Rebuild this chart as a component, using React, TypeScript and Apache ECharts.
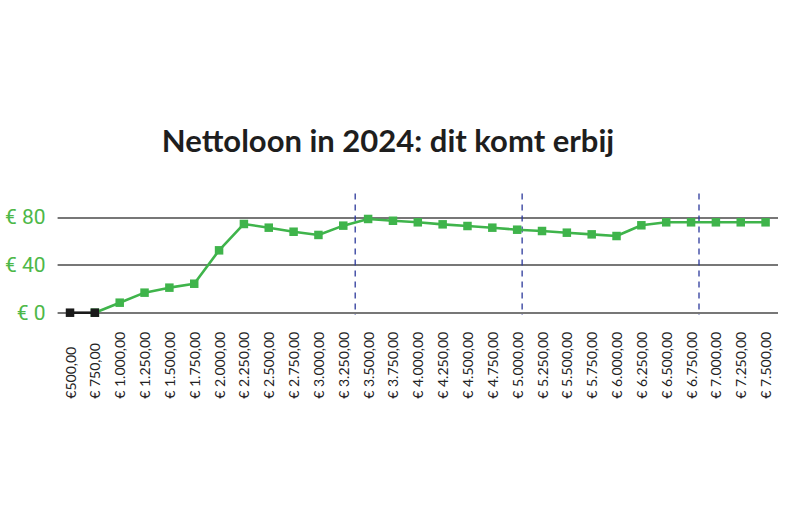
import React, { useEffect, useRef } from "react";
import * as echarts from "echarts";

const salaries = [
  500, 750, 1000, 1250, 1500, 1750, 2000, 2250, 2500, 2750, 3000, 3250, 3500, 3750, 4000,
  4250, 4500, 4750, 5000, 5250, 5500, 5750, 6000, 6250, 6500, 6750, 7000, 7250, 7500,
];
const categoryLabels = [
  "€500,00", "€ 750,00", "€ 1.000,00", "€ 1.250,00", "€ 1.500,00", "€ 1.750,00", "€ 2.000,00",
  "€ 2.250,00", "€ 2.500,00", "€ 2.750,00", "€ 3.000,00", "€ 3.250,00", "€ 3.500,00",
  "€ 3.750,00", "€ 4.000,00", "€ 4.250,00", "€ 4.500,00", "€ 4.750,00", "€ 5.000,00",
  "€ 5.250,00", "€ 5.500,00", "€ 5.750,00", "€ 6.000,00", "€ 6.250,00", "€ 6.500,00",
  "€ 6.750,00", "€ 7.000,00", "€ 7.250,00", "€ 7.500,00",
];
const extraNet = [
  0, 0, 8.4, 16.8, 21.0, 24.3, 52.3, 74.4, 71.3, 67.9, 65.2, 73.0, 78.6, 77.1, 75.8,
  74.1, 72.7, 71.3, 69.6, 68.5, 67.1, 65.7, 64.3, 73.3, 75.8, 75.8, 75.8, 75.8, 75.8,
];
const zeroPoints = [0, 0];
const yTicks = [0, 40, 80];
const dashedAt = [3370, 5050, 6830];
const dashedRange = [-2, 100];

const title = "Nettoloon in 2024: dit komt erbij";

export default function App() {
  const ref = useRef<HTMLDivElement>(null);
  useEffect(() => {
    if (!ref.current) return;
    const chart = echarts.init(ref.current, null, { renderer: "svg" });
    const green = "#3fb44b";
    const blackData = categoryLabels.map((_, i) => (i < zeroPoints.length ? zeroPoints[i] : "-"));
    const greenData = extraNet.map((v, i) => (i === 0 ? "-" : v));
    const step = salaries[1] - salaries[0];
    chart.setOption({
      animation: false,
      graphic: [
        {
          type: "text",
          x: 388,
          y: 140,
          style: {
            text: title,
            font: "bold 31px Lato",
            fill: "#1e1e1e",
            textAlign: "center",
            textVerticalAlign: "middle",
          },
        },
      ],
      grid: { left: 57.6, right: 22, top: 217.3, bottom: 213.3 },
      xAxis: [
        {
          type: "category",
          data: categoryLabels,
          boundaryGap: true,
          axisLine: { show: false },
          axisTick: { show: false },
          axisLabel: {
            rotate: 90,
            interval: 0,
            align: "left",
            verticalAlign: "middle",
            margin: 86,
            fontFamily: "Lato",
            fontSize: 14,
            color: "#222",
          },
        },
        {
          type: "value",
          min: salaries[0] - step / 2,
          max: salaries[salaries.length - 1] + step / 2,
          show: false,
        },
      ],
      yAxis: {
        type: "value",
        min: yTicks[0],
        max: yTicks[yTicks.length - 1],
        interval: yTicks[1] - yTicks[0],
        axisLine: { show: false },
        axisTick: { show: false },
        axisLabel: {
          formatter: (v: number) => "€ " + v,
          color: "#4db848",
          fontFamily: "Roboto",
          fontSize: 21,
          margin: 12,
        },
        splitLine: { lineStyle: { color: "#4a4a4a", width: 1.6 } },
      },
      series: [
        {
          type: "custom",
          xAxisIndex: 1,
          clip: false,
          z: 1,
          data: dashedAt.map((x) => [x]),
          renderItem: (params: any, api: any) => {
            const x = api.value(0);
            const p1 = api.coord([x, dashedRange[1]]);
            const p2 = api.coord([x, dashedRange[0]]);
            return {
              type: "line",
              shape: { x1: p1[0], y1: p1[1], x2: p2[0], y2: p2[1] },
              style: { stroke: "#2d3a9c", lineWidth: 1.3, lineDash: [6, 5] },
            };
          },
        },
        {
          type: "line",
          data: greenData,
          symbol: "rect",
          symbolSize: 8.5,
          z: 3,
          lineStyle: { color: green, width: 2.6 },
          itemStyle: { color: green },
        },
        {
          type: "line",
          data: blackData,
          symbol: "rect",
          symbolSize: 8.5,
          z: 4,
          lineStyle: { color: "#1a1a1a", width: 2.6 },
          itemStyle: { color: "#1a1a1a" },
        },
      ],
    });
    return () => chart.dispose();
  }, []);
  return (
    <div
      ref={ref}
      style={{ position: "fixed", left: 0, top: 0, width: 800, height: 526, background: "#fff" }}
    />
  );
}
